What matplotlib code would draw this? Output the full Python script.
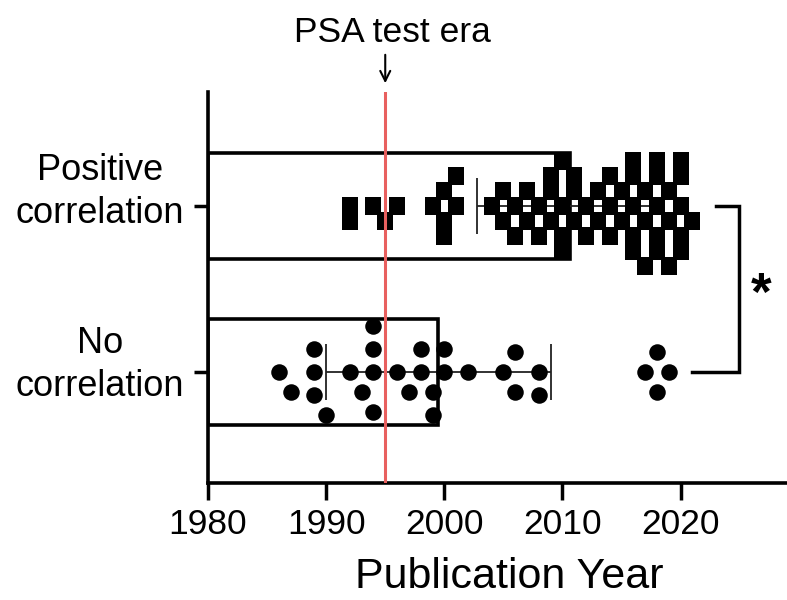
import matplotlib
matplotlib.use('Agg')
import matplotlib.pyplot as plt
import matplotlib.transforms as mtransforms
import numpy as np

plt.rcParams['font.family'] = ['Liberation Sans', 'DejaVu Sans']

# publication years, one entry per study
positive_years = [1992, 1992, 1994, 1995, 1996, 1999, 2000, 2000, 2000, 2001, 2001,
                  2004, 2005, 2005, 2006, 2006, 2007, 2007, 2008, 2008,
                  2009, 2009, 2009, 2010, 2010, 2010, 2010, 2011, 2011, 2011,
                  2012, 2012, 2013, 2013, 2014, 2014, 2014, 2015, 2015,
                  2016, 2016, 2016, 2016, 2016, 2017, 2017, 2017,
                  2018, 2018, 2018, 2018, 2018, 2019, 2019, 2019,
                  2020, 2020, 2020, 2020, 2020, 2021]
none_years = [1986, 1987, 1989, 1989, 1989, 1990, 1992, 1993, 1994, 1994, 1994, 1994,
              1996, 1997, 1998, 1998, 1999, 1999, 2000, 2000, 2002, 2005, 2006, 2006,
              2008, 2008, 2017, 2018, 2018, 2019]
group_labels = ['Positive\ncorrelation', 'No\ncorrelation']
xticks = [1980, 1990, 2000, 2010, 2020]
psa_year = 1995

W, H, DPI = 7.87, 6.0, 100
ax_pos = [208 / 787, 1 - 483 / 600, 579 / 787, 391 / 600]
xlim = (1980, 2029)
ylim = (-0.67, 1.687)
px_x = ax_pos[2] * W * DPI / (xlim[1] - xlim[0])
px_y = ax_pos[3] * H * DPI / (ylim[1] - ylim[0])


def swarm(values, w, h, round_marker):
    # simple beeswarm in pixel space, returns vertical offsets in px
    placed = []
    out = []
    cands = sorted(np.arange(-90, 91, 1.0), key=abs)
    for v in sorted(values):
        x = v * px_x
        for dy in cands:
            hit = False
            for px, py in placed:
                dx = abs(px - x)
                dd = abs(py - dy)
                if round_marker:
                    if dx * dx + dd * dd < w * w:
                        hit = True
                        break
                elif dx < w and dd < h:
                    hit = True
                    break
            if not hit:
                break
        placed.append((x, dy))
        out.append(dy)
    return np.array(out)


fig = plt.figure(figsize=(W, H), dpi=DPI)
ax = fig.add_axes(ax_pos)

means = [np.mean(positive_years), np.mean(none_years)]
sds = [np.std(positive_years, ddof=1), np.std(none_years, ddof=1)]
ypos = [1, 0]

ax.barh(ypos, [m - xlim[0] for m in means], left=xlim[0], height=0.64,
        fill=False, edgecolor='black', linewidth=2.6, zorder=2)
ax.errorbar(means, ypos, xerr=sds, fmt='none', ecolor='#222222',
            elinewidth=1.3, capsize=20, capthick=1.3, zorder=3)

rect = [(-0.41, -0.5), (0.41, -0.5), (0.41, 0.5), (-0.41, 0.5), (-0.41, -0.5)]
off_pos = swarm(positive_years, 12.5, 14.5, False)
ax.plot(sorted(positive_years), 1 + off_pos / px_y, linestyle='none',
        marker=rect, ms=13.5, color='black', mew=0, zorder=4)
off_no = swarm(none_years, 23, 23, True)
ax.plot(sorted(none_years), 0 + off_no / px_y, linestyle='none',
        marker='o', ms=11.9, color='black', mew=0, zorder=4)

ax.axvline(psa_year, color='#E8605F', lw=2.2, zorder=5)

# significance bracket
ax.plot([2021, 2024.9, 2024.9, 2023], [0, 0, 1, 1], color='black', lw=2.5,
        clip_on=False, solid_joinstyle='miter')
ax.text(2026.8, 0.46, '*', fontsize=38, fontweight='bold', ha='center', va='center')

fig.text(392 / 787, 1 - 32 / 600, 'PSA test era', fontsize=25.5, ha='center', va='center')
ax.annotate('', xy=(psa_year, 1 - 86 / 600), xytext=(psa_year, 1 - 52 / 600),
            xycoords=('data', 'figure fraction'), textcoords=('data', 'figure fraction'),
            arrowprops=dict(arrowstyle='->', lw=1.5, color='black', mutation_scale=18))

ax.set_xlim(xlim)
ax.set_ylim(ylim)
ax.set_xticks(xticks)
ax.set_yticks(ypos)
ax.set_yticklabels([])
ax.tick_params(axis='both', labelsize=25.5, width=2.5, color='black')
ax.tick_params(axis='x', length=12, pad=6)
ax.tick_params(axis='y', length=10, pad=8)

# group labels, centred lines, sitting a little above their ticks
ytrans = mtransforms.blended_transform_factory(fig.transFigure, ax.transData)
for y, lab, lift in zip(ypos, group_labels, [14, 7]):
    ax.text(100 / 787, y + lift / px_y, lab, transform=ytrans, fontsize=26,
            ha='center', va='center', multialignment='center', linespacing=1.3)

for s in ['top', 'right']:
    ax.spines[s].set_visible(False)
for s in ['left', 'bottom']:
    ax.spines[s].set_linewidth(2.6)
ax.set_xlabel('Publication Year', fontsize=31)
ax.xaxis.set_label_coords(0.52, -0.19)

fig.savefig('out.png', dpi=DPI)
